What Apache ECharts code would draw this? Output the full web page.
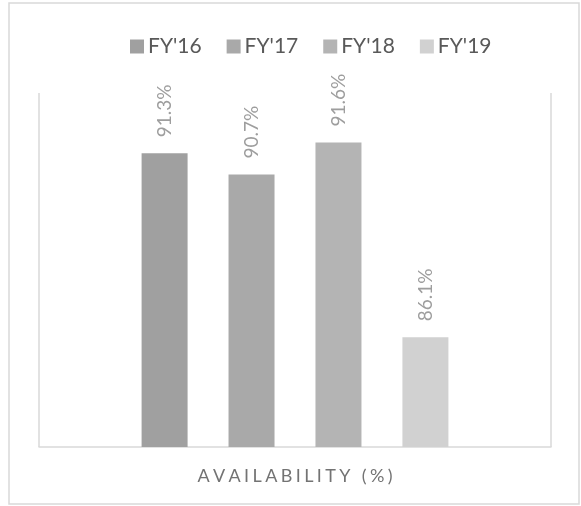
<!DOCTYPE html>
<html>
<head>
<meta charset="utf-8">
<script src="https://cdn.jsdelivr.net/npm/echarts@6/dist/echarts.min.js"></script>
<style>
  html, body { margin: 0; padding: 0; background: #fff; }
  #chart { width: 581px; height: 506px; }
</style>
</head>
<body>
<div id="chart"></div>
<script>
var categories = ["AVAILABILITY (%)"];
var seriesNames = ["FY'16", "FY'17", "FY'18", "FY'19"];
var seriesValues = [[91.3], [90.7], [91.6], [86.1]];
var barColors = ['#a0a0a0', '#a9a9a9', '#b4b4b4', '#d1d1d1'];

var myChart = echarts.init(document.getElementById('chart'));

var series = [];
for (var i = 0; i < seriesNames.length; i++) {
    series.push({
        name: seriesNames[i],
        type: 'bar',
        data: seriesValues[i],
        barWidth: 46,
        barGap: '89%',
        itemStyle: { color: barColors[i] },
        label: {
            show: true,
            position: 'top',
            rotate: 90,
            align: 'left',
            verticalAlign: 'middle',
            distance: 16,
            fontFamily: 'Lato',
            fontSize: 19,
            color: '#9e9e9e',
            formatter: function (p) { return p.value.toFixed(1) + '%'; }
        }
    });
}

var option = {
    animation: false,
    backgroundColor: '#fff',
    // outer chart border
    graphic: [{
        type: 'rect',
        shape: { x: 9, y: 3, width: 570, height: 501 },
        style: { fill: 'none', stroke: '#d9d9d9', lineWidth: 1.5 },
        silent: true
    }],
    legend: {
        left: 125,
        top: 31,
        itemWidth: 14,
        itemHeight: 14,
        itemGap: 25,
        icon: 'rect',
        textStyle: { fontFamily: 'Lato', fontSize: 21, color: '#595959', padding: [0, 0, 0, -1] },
        data: seriesNames
    },
    grid: { left: 39, right: 30, top: 93, bottom: 59 },
    xAxis: {
        type: 'category',
        data: categories,
        axisLine: { lineStyle: { color: '#d9d9d9', width: 1.5 } },
        axisTick: { show: false },
        splitLine: { show: true, lineStyle: { color: '#d9d9d9', width: 1.5 } },
        axisLabel: {
            margin: 20,
            fontFamily: 'Lato',
            fontSize: 18,
            color: '#737373',
            formatter: function (v) { return v.split('').join('\u2009\u200a'); }
        }
    },
    yAxis: {
        type: 'value',
        min: 83,
        max: 93,
        show: false
    },
    series: series
};
myChart.setOption(option);
</script>
</body>
</html>
